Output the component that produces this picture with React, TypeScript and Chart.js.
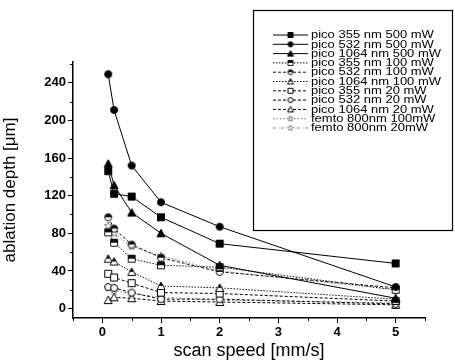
import React, { useEffect, useRef } from "react";
import { Chart, registerables } from "chart.js";

Chart.register(...registerables);

const xs = [0.1, 0.2, 0.5, 1, 2, 5];
const p355_500 = [146, 122, 119, 97, 69, 48];
const p532_500 = [249, 211, 152, 113, 87, 23];
const p1064_500 = [154, 131, 102, 80, 46, 11];
const p355_100 = [81, 70, 53, 46, 44, 20];
const p532_100 = [97, 85, 68, 54, 39, 22];
const p1064_100 = [53, 50, 39, 24, 22, 10];
const p355_20 = [37, 33, 27, 17, 16, 8];
const p532_20 = [23, 22, 17, 10, 10, 5];
const p1064_20 = [9, 12, 11, 8, 7, 4];
const femto_100 = [88, 80, 66, 56, 40, 20];
const femto_20 = [22, 19, 16, 12, 9, 6];

const xTicks = [0, 1, 2, 3, 4, 5];
const yTicks = [0, 40, 80, 120, 160, 200, 240];
const xMinor = [-0.5, 0.5, 1.5, 2.5, 3.5, 4.5, 5.5];
const yMinor = [20, 60, 100, 140, 180, 220, 260];

const labels = [
  "pico 355 nm 500 mW",
  "pico 532 nm 500 mW",
  "pico 1064 nm 500 mW",
  "pico 355 nm 100 mW",
  "pico 532 nm 100 mW",
  "pico 1064 nm 100 mW",
  "pico 355 nm 20 mW",
  "pico 532 nm 20 mW",
  "pico 1064 nm 20 mW",
  "femto 800nm 100mW",
  "femto 800nm 20mW",
];
const series = [p355_500, p532_500, p1064_500, p355_100, p532_100, p1064_100, p355_20, p532_20, p1064_20, femto_100, femto_20];
const shapes = ["rect", "circle", "tri", "rect", "circle", "tri", "rect", "circle", "tri", "star", "star"];
const fills = ["full", "full", "full", "half", "half", "half", "none", "none", "none", "none", "none"];
const colors = ["#000", "#000", "#000", "#111", "#111", "#111", "#000", "#000", "#000", "#777", "#888"];
const dashes: number[][] = [[], [], [], [1.5, 1.5], [3, 2], [1.5, 1.5], [3, 2], [3, 2], [3, 2], [1.5, 2], [3, 2, 1, 2]];

function makeMarker(shape: string, fill: string, size: number, color: string) {
  const c = document.createElement("canvas");
  const s = size + 2;
  c.width = s;
  c.height = s;
  const ctx = c.getContext("2d")!;
  const cx = s / 2, cy = s / 2, r = size / 2;
  const path = () => {
    ctx.beginPath();
    if (shape === "rect") {
      ctx.rect(cx - r + 0.5, cy - r + 0.5, size - 1, size - 1);
    } else if (shape === "circle") {
      ctx.arc(cx, cy, r - 0.5, 0, Math.PI * 2);
    } else if (shape === "tri") {
      ctx.moveTo(cx, cy - r);
      ctx.lineTo(cx + r, cy + r - 0.5);
      ctx.lineTo(cx - r, cy + r - 0.5);
      ctx.closePath();
    } else {
      for (let i = 0; i < 10; i++) {
        const a = -Math.PI / 2 + (i * Math.PI) / 5;
        const rr = i % 2 === 0 ? r : r * 0.45;
        const px = cx + rr * Math.cos(a), py = cy + rr * Math.sin(a);
        if (i === 0) ctx.moveTo(px, py);
        else ctx.lineTo(px, py);
      }
      ctx.closePath();
    }
  };
  ctx.fillStyle = "#fff";
  path();
  ctx.fill();
  if (fill === "full") {
    ctx.fillStyle = color;
    path();
    ctx.fill();
  } else if (fill === "half") {
    ctx.save();
    ctx.beginPath();
    ctx.rect(0, 0, s, s / 2);
    ctx.clip();
    ctx.fillStyle = color;
    path();
    ctx.fill();
    ctx.restore();
  }
  ctx.strokeStyle = color;
  ctx.lineWidth = 1;
  path();
  ctx.stroke();
  return c;
}

const FONT = "'Liberation Sans', Arial, sans-serif";

export default function App() {
  const ref = useRef<HTMLCanvasElement | null>(null);
  useEffect(() => {
    const canvas = ref.current!;
    const markers = series.map((_, i) => makeMarker(shapes[i], fills[i], 8, colors[i]));
    const legendMarkers = series.map((_, i) => makeMarker(shapes[i], fills[i], 6, colors[i]));

    const datasets = series.map((vals, i) => ({
      label: labels[i],
      data: xs.map((x, j) => ({ x, y: vals[j] })),
      borderColor: colors[i],
      backgroundColor: colors[i],
      borderWidth: 1,
      borderDash: dashes[i],
      pointStyle: markers[i] as any,
      pointRadius: 4,
      tension: 0,
      fill: false,
    }));

    const extras = {
      id: "extras",
      afterDraw(chart: any) {
        const ctx = chart.ctx as CanvasRenderingContext2D;
        const xs_ = chart.scales.x;
        const ys_ = chart.scales.y;
        const ca = chart.chartArea;
        ctx.save();
        ctx.strokeStyle = "#000";
        ctx.lineWidth = 1;
        ctx.beginPath();
        yMinor.forEach((v) => {
          const py = Math.round(ys_.getPixelForValue(v)) + 0.5;
          ctx.moveTo(ca.left - 3, py);
          ctx.lineTo(ca.left, py);
        });
        xMinor.forEach((v) => {
          const px = Math.round(xs_.getPixelForValue(v)) + 0.5;
          ctx.moveTo(px, ca.bottom);
          ctx.lineTo(px, ca.bottom + 3);
        });
        ctx.stroke();
        const bx = 253, by = 10, bw = 199, bh = 220;
        ctx.fillStyle = "#fff";
        ctx.fillRect(bx, by, bw, bh);
        ctx.lineWidth = 1.2;
        ctx.strokeRect(bx + 0.5, by + 0.5, bw, bh);
        ctx.font = `10px ${FONT}`;
        ctx.textBaseline = "middle";
        ctx.textAlign = "left";
        for (let i = 0; i < labels.length; i++) {
          const ry = 35 + i * 9.3;
          ctx.save();
          ctx.strokeStyle = colors[i];
          ctx.lineWidth = 1;
          ctx.setLineDash(dashes[i]);
          ctx.beginPath();
          ctx.moveTo(273, ry);
          ctx.lineTo(308, ry);
          ctx.stroke();
          ctx.restore();
          const m = legendMarkers[i];
          ctx.drawImage(m, 290.5 - m.width / 2, ry - m.height / 2);
          ctx.save();
          ctx.translate(311, ry + 0.5);
          ctx.scale(1.3, 1);
          ctx.fillStyle = "#000";
          ctx.fillText(labels[i], 0, 0);
          ctx.restore();
        }
        ctx.restore();
      },
    };

    const chart = new Chart(canvas, {
      type: "line",
      data: { datasets: datasets as any },
      options: {
        animation: false,
        responsive: false,
        maintainAspectRatio: false,
        layout: { padding: { top: 62, right: 30, left: 0, bottom: 0 } },
        plugins: { legend: { display: false }, tooltip: { enabled: false } },
        scales: {
          x: {
            type: "linear",
            min: -0.5,
            max: 5.5,
            afterBuildTicks: (s: any) => {
              s.ticks = xTicks.map((v) => ({ value: v }));
            },
            afterFit: (s: any) => {
              s.height = 44;
            },
            border: { display: true, color: "#000", width: 1.5 },
            grid: { display: true, drawOnChartArea: false, drawTicks: true, tickLength: 5, color: "#000" },
            ticks: { color: "#000", font: { family: FONT, size: 13, weight: "bold" }, padding: 2, maxRotation: 0 },
            title: { display: true, text: "scan speed [mm/s]", color: "#000", font: { family: FONT, size: 18 }, padding: { top: -4, bottom: 0 } },
          },
          y: {
            type: "linear",
            min: -10,
            max: 262,
            afterBuildTicks: (s: any) => {
              s.ticks = yTicks.map((v) => ({ value: v }));
            },
            afterFit: (s: any) => {
              s.width = 73;
            },
            border: { display: true, color: "#000", width: 1.5 },
            grid: { display: true, drawOnChartArea: false, drawTicks: true, tickLength: 5, color: "#000" },
            ticks: { color: "#000", font: { family: FONT, size: 13, weight: "bold" }, padding: 2 },
            title: { display: true, text: "ablation depth [μm]", color: "#000", font: { family: FONT, size: 17 }, padding: { top: 0, bottom: 6 } },
          },
        },
      },
      plugins: [extras],
    });
    return () => chart.destroy();
  }, []);
  return (
    <div style={{ position: "fixed", left: 0, top: 0, width: 455, height: 362, background: "#fff" }}>
      <canvas ref={ref} width={455} height={362} style={{ width: 455, height: 362 }} />
    </div>
  );
}
